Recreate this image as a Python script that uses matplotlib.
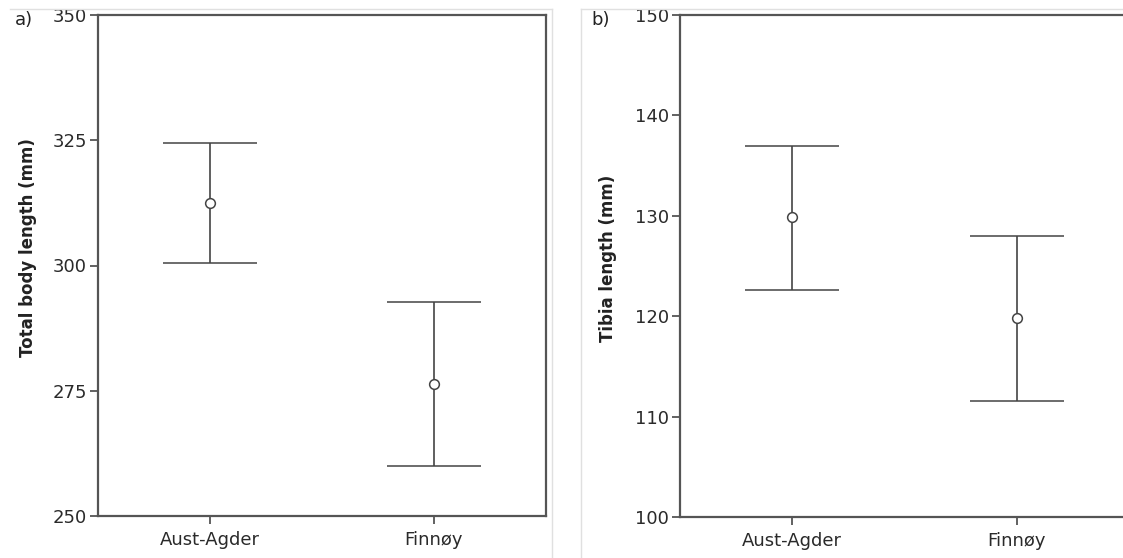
import numpy as np
import matplotlib.pyplot as plt
from matplotlib.lines import Line2D

groups = ['Aust-Agder', 'Finnøy']

body_mean = [312.5, 276.3]
body_low = [300.5, 260.0]
body_high = [324.5, 292.7]

tibia_mean = [129.9, 119.8]
tibia_low = [122.6, 111.6]
tibia_high = [137.0, 128.0]

W, H = 1123, 558
fig = plt.figure(figsize=(W / 100, H / 100), dpi=100)
plt.rcParams['font.family'] = 'DejaVu Sans'

spine_col = '#555555'
bar_col = '#444444'
fs = 13


def px(x0, y0, x1, y1):
    return [x0 / W, 1 - y1 / H, (x1 - x0) / W, (y1 - y0) / H]


def panel(rect, mean, low, high, ylim, yticks, ylabel, label_x, label_y):
    ax = fig.add_axes(rect)
    x = np.arange(len(groups))
    mean = np.array(mean)
    err = [mean - np.array(low), np.array(high) - mean]
    ax.errorbar(x, mean, yerr=err, fmt='o', color=bar_col, ecolor=bar_col,
                mfc='white', mec=bar_col, ms=7, mew=1.1, elinewidth=1.2,
                capsize=34, capthick=1.2)
    ax.set_xlim(-0.5, 1.5)
    ax.set_ylim(*ylim)
    ax.set_yticks(yticks)
    ax.set_xticks(x)
    ax.set_xticklabels(groups)
    for s in ax.spines.values():
        s.set_color(spine_col)
        s.set_linewidth(1.6)
    ax.tick_params(direction='out', length=6, width=1.3, color=spine_col,
                   labelsize=fs, labelcolor='#2a2a2a', pad=2)
    ax.tick_params(axis='x', pad=5)
    ax.set_ylabel(ylabel, fontsize=12, fontweight='bold', color='#222222')
    ax.yaxis.set_label_coords(label_x, label_y, transform=fig.transFigure)
    return ax


panel(px(98, 15, 546, 516), body_mean, body_low, body_high, (250, 350),
      [250, 275, 300, 325, 350], 'Total body length (mm)', 37 / W, 1 - 248 / H)
panel(px(680, 15, 1129, 517), tibia_mean, tibia_low, tibia_high, (100, 150),
      [100, 110, 120, 130, 140, 150], 'Tibia length (mm)', 617 / W, 1 - 258 / H)

fig.text(15 / W, 1 - 20 / H, 'a)', fontsize=fs, va='center', color='#222222')
fig.text(591 / W, 1 - 20 / H, 'b)', fontsize=fs, va='center', color='#222222')

# light frame lines of the two source images
grey = '#e0e0e0'
fig.add_artist(Line2D([10 / W, 552 / W], [1 - 9 / H, 1 - 9 / H], color=grey, lw=1))
fig.add_artist(Line2D([581 / W, 1], [1 - 9 / H, 1 - 9 / H], color=grey, lw=1))
fig.add_artist(Line2D([552 / W, 552 / W], [0, 1 - 9 / H], color=grey, lw=1))
fig.add_artist(Line2D([581 / W, 581 / W], [0, 1 - 9 / H], color=grey, lw=1))

fig.savefig('out.png', dpi=100)
